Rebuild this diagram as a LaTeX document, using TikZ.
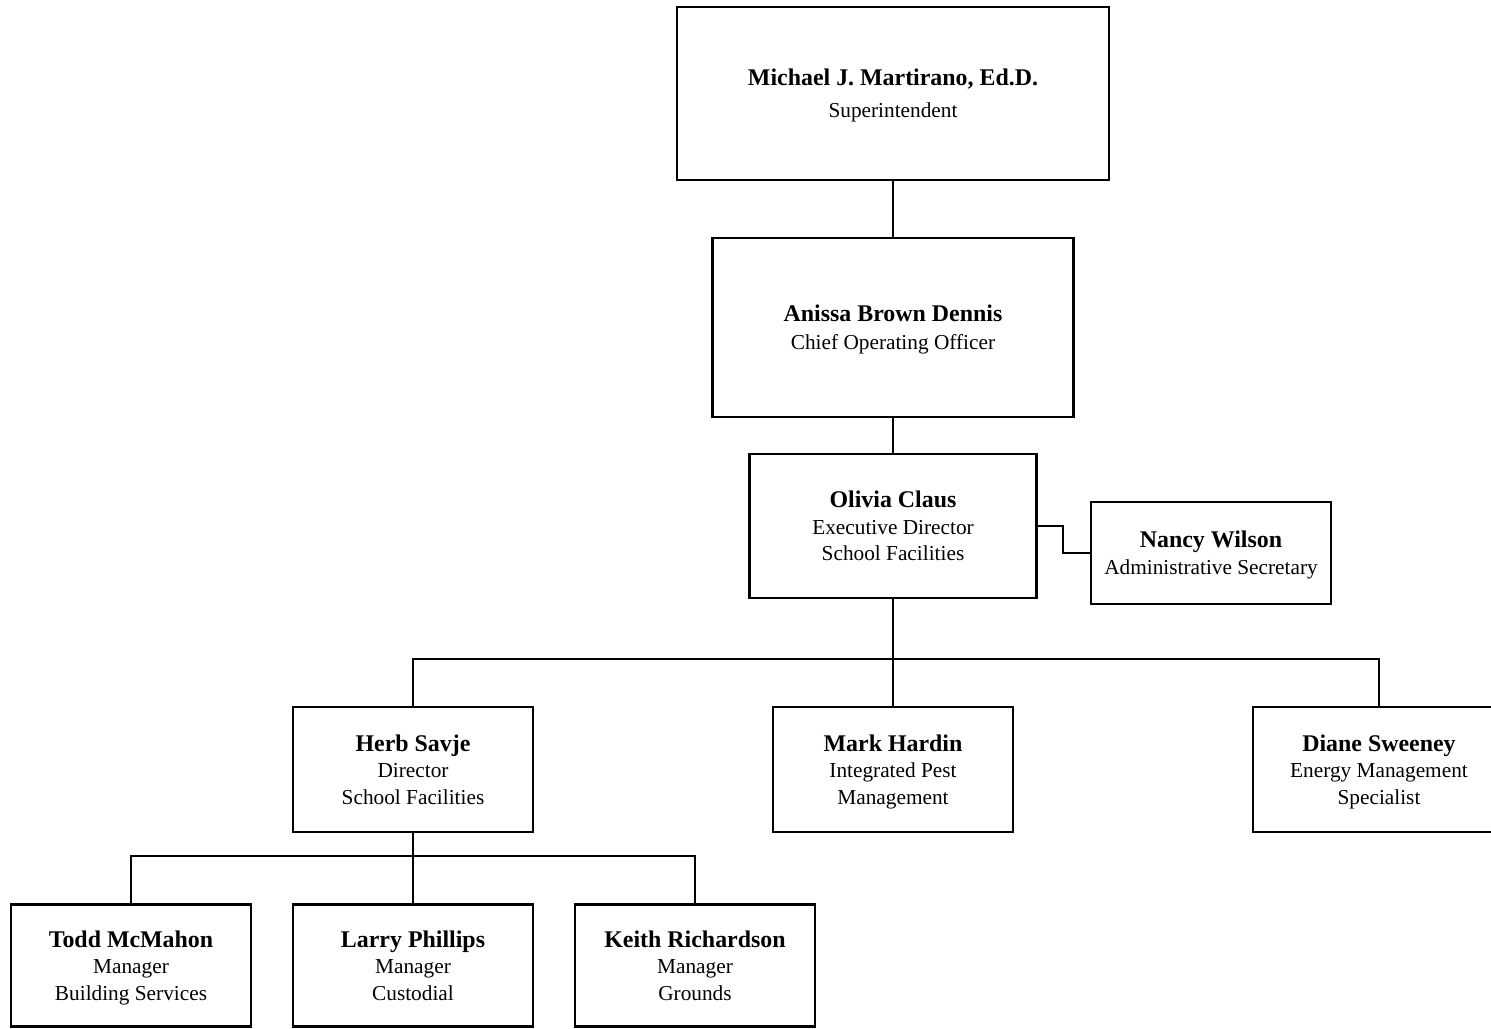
\documentclass[tikz,border=0pt]{standalone}
\usepackage{fontspec}
\setmainfont{Liberation Serif}
\newcommand\pname[1]{{\fontsize{23.9}{28}\selectfont\bfseries #1}}
\begin{document}
\begin{tikzpicture}[x=1pt,y=-1pt,
  box/.style={draw,line width=2.8pt,inner sep=0pt,minimum width=240pt,minimum height=125pt,
    align=center,text height=69.3pt,text depth=0pt,font=\fontsize{21.3}{26.5}\selectfont},
  conn/.style={line width=2.8pt}]
\useasboundingbox (0,0) rectangle (1491,1028);
\clip (0,0) rectangle (1491,1028);
\node[box,minimum width=432pt,minimum height=173pt,text height=47.8pt] (mic) at (893,93.5)
  {\pname{Michael J. Martirano, Ed.D.}\\[5pt]Superintendent};
\node[box,minimum width=361pt,minimum height=179pt,text height=43.8pt] (ani) at (893,327.5)
  {\pname{Anissa Brown Dennis}\\[1pt]Chief Operating Officer};
\node[box,minimum width=287pt,minimum height=144pt] (oli) at (893,526)
  {\pname{Olivia Claus}\\Executive Director\\School Facilities};
\node[box,minimum width=240pt,minimum height=102pt,text height=42.8pt] (nan) at (1211,553)
  {\pname{Nancy Wilson}\\Administrative Secretary};
\node[box] (herb) at (413,769.5) {\pname{Herb Savje}\\Director\\School Facilities};
\node[box] (mark) at (893,769.5) {\pname{Mark Hardin}\\Integrated Pest\\Management};
\node[box,minimum width=252pt] (dia) at (1379,769.5) {\pname{Diane Sweeney}\\Energy Management\\Specialist};
\node[box,minimum height=122pt] (todd) at (131,965.5) {\pname{Todd McMahon}\\Manager\\Building Services};
\node[box,minimum height=122pt] (larry) at (413,965.5) {\pname{Larry Phillips}\\Manager\\Custodial};
\node[box,minimum height=122pt] (keith) at (695,965.5) {\pname{Keith Richardson}\\Manager\\Grounds};
\coordinate (bar1) at (893,659);
\coordinate (bar2) at (413,856);
\draw[conn] (mic.south) -- (ani.north);
\draw[conn] (ani.south) -- (oli.north);
\draw[conn] (oli.east) -- ++(25,0) |- (nan.west);
\draw[conn] (oli.south) -- (mark.north);
\draw[conn] (herb.north) |- (bar1) -| (dia.north);
\draw[conn] (herb.south) -- (larry.north);
\draw[conn] (todd.north) |- (bar2) -| (keith.north);
\end{tikzpicture}
\end{document}
